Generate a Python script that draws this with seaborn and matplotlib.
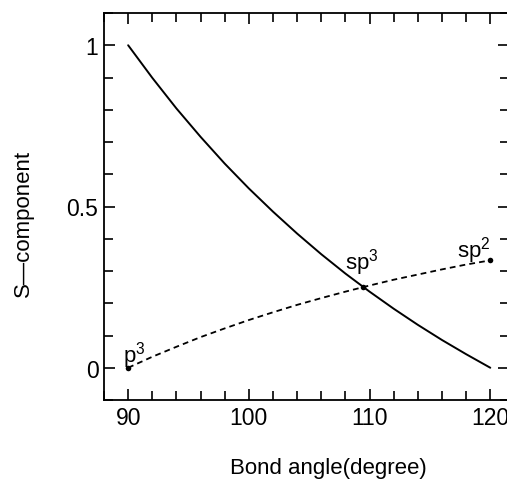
import numpy as np
import pandas as pd
import matplotlib.pyplot as plt
import matplotlib.ticker as tkr
import seaborn as sns

# values
angle = [90, 92, 94, 96, 98, 100, 102, 104, 106, 108, 110, 112, 114, 116, 118, 120]
s_lone = [1.0, 0.899, 0.804, 0.716, 0.633, 0.556, 0.484, 0.416, 0.352, 0.292,
          0.236, 0.183, 0.133, 0.086, 0.042, 0.0]
s_bond = [0.0, 0.034, 0.065, 0.095, 0.122, 0.148, 0.172, 0.195, 0.216, 0.236,
          0.255, 0.273, 0.289, 0.305, 0.320, 0.333]

hyb_angle = [90, 109.47, 120]
hyb_s = [0.0, 0.25, 0.333]
hyb_label = ["p$^3$", "sp$^3$", "sp$^2$"]
label_offset = [(-5, 6), (-18, 19), (-33, 4)]   # pixels

xticks = [90, 100, 110, 120]
yticks = [0, 0.5, 1]
ytick_labels = ["0", "0.5", "1"]

sns.set_style("ticks")
plt.rcParams['font.family'] = ['Liberation Sans', 'DejaVu Sans']
plt.rcParams['mathtext.fontset'] = 'custom'
plt.rcParams['mathtext.rm'] = 'Liberation Sans'
plt.rcParams['mathtext.default'] = 'regular'
plt.rcParams['text.color'] = 'black'
plt.rcParams['axes.labelcolor'] = 'black'
plt.rcParams['xtick.color'] = 'black'
plt.rcParams['ytick.color'] = 'black'

df = pd.DataFrame({"angle": angle, "lone": s_lone, "bond": s_bond})

fig = plt.figure(figsize=(5.07, 4.81), dpi=100)
ax = fig.add_axes([104 / 507, 80 / 481, 405 / 507, 387 / 481])

sns.lineplot(data=df, x="angle", y="lone", ax=ax, color="black", lw=1.4)
sns.lineplot(data=df, x="angle", y="bond", ax=ax, color="black", lw=1.3,
             linestyle=(0, (3.2, 2.3)))
sns.scatterplot(x=hyb_angle, y=hyb_s, ax=ax, color="black", s=16,
                edgecolor="black", linewidth=0, zorder=5)

for a, s, lab, off in zip(hyb_angle, hyb_s, hyb_label, label_offset):
    ax.annotate(lab, (a, s), xytext=off, textcoords="offset pixels",
                ha="left", va="baseline", fontsize=16, color="black")

ax.set_xlim(88, 121.55)
ax.set_ylim(-0.1, 1.1)
ax.set_xticks(xticks)
ax.xaxis.set_minor_locator(tkr.MultipleLocator(2))
ax.set_yticks(yticks)
ax.set_yticklabels(ytick_labels)
ax.yaxis.set_minor_locator(tkr.MultipleLocator(0.1))

ax.tick_params(which="both", direction="in", top=True, right=True,
               labelsize=16.5, width=1.2, color="black", labelcolor="black", pad=4)
ax.tick_params(which="major", length=8)
ax.tick_params(which="minor", length=6.5)
for sp in ax.spines.values():
    sp.set_linewidth(1.3)
    sp.set_color("black")

ax.set_xlabel("Bond angle(degree)", fontsize=16, color="black")
ax.set_ylabel("S\u2014component", fontsize=16, color="black")
ax.xaxis.set_label_coords(0.555, -0.147)
ax.yaxis.set_label_coords(-0.173, 0.459)

fig.savefig("out.png", dpi=100)
